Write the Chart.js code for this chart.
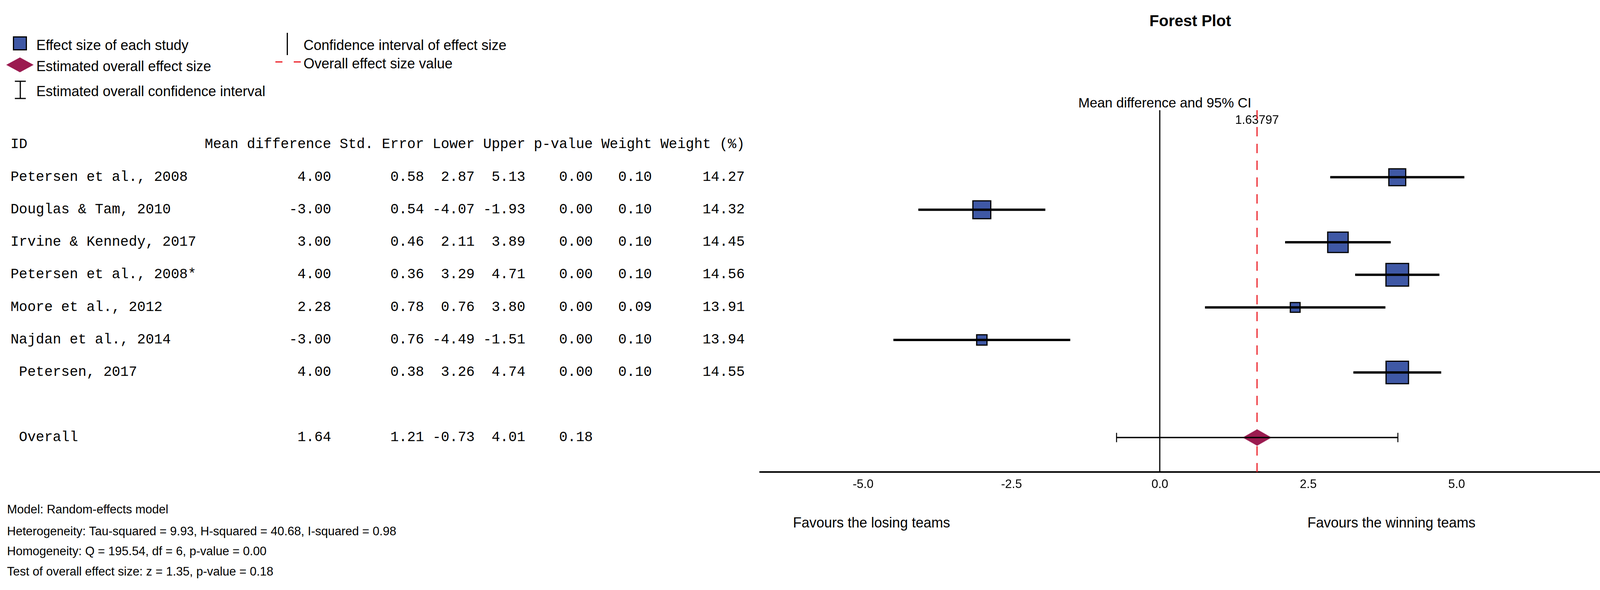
<!DOCTYPE html>
<html>
<head>
<meta charset="utf-8">
<title>Forest Plot</title>
<script src="https://cdn.jsdelivr.net/npm/chart.js@4.4.1/dist/chart.umd.min.js"></script>
<style>
  body { margin: 0; background: #fff; }
  #page { position: relative; width: 4168px; height: 1510px; overflow: hidden; background: #fff;
          font-family: 'Liberation Sans', Arial, sans-serif; color: #000; }
  .t { position: absolute; white-space: pre; font-size: 36px; line-height: 40px; }
  .note { position: absolute; white-space: pre; font-size: 31px; line-height: 36px; left: 18px; }
  .mono { position: absolute; white-space: pre; left: 27px;
          font-family: 'Liberation Mono', 'Courier New', monospace; font-size: 36px; line-height: 40px; }
  .sym { position: absolute; }
  #chartBox { position: absolute; left: 1900px; top: 0; width: 2268px; height: 1510px; }
</style>
</head>
<body>
<div id="page">
  <!-- legend -->
  <div class="sym" style="left:33px;top:93px;width:36px;height:36px;box-sizing:border-box;background:#3f58a5;border:3px solid #000;"></div>
  <div class="t" style="left:93px;top:96px;">Effect size of each study</div>
  <svg class="sym" style="left:16px;top:147px;" width="70" height="38"><polygon points="0,19 35,0 70,19 35,38" fill="#9b1b50"/></svg>
  <div class="t" style="left:93px;top:150px;">Estimated overall effect size</div>
  <svg class="sym" style="left:36px;top:206px;" width="32" height="48"><path d="M2 2 H30 M16 2 V46 M2 46 H30" stroke="#000" stroke-width="3" fill="none"/></svg>
  <div class="t" style="left:93px;top:214px;">Estimated overall confidence interval</div>
  <div class="sym" style="left:734px;top:84px;width:3px;height:57px;background:#000;"></div>
  <div class="t" style="left:777px;top:96px;">Confidence interval of effect size</div>
  <div class="sym" style="left:705px;top:157px;width:18px;height:3px;background:#ec1c24;"></div>
  <div class="sym" style="left:752px;top:157px;width:18px;height:3px;background:#ec1c24;"></div>
  <div class="t" style="left:777px;top:143px;">Overall effect size value</div>

  <div id="table"></div>
  <div id="notes"></div>

  <!-- plot texts -->
  <div class="t" style="left:2847px;top:29px;width:400px;text-align:center;font-weight:bold;font-size:40px;line-height:48px;">Forest Plot</div>
  <div class="t" style="left:2682px;top:243px;width:600px;text-align:center;font-size:35px;">Mean difference and 95% CI</div>
  <div class="t" style="left:2030px;top:1318px;">Favours the losing teams</div>
  <div class="t" style="left:3347px;top:1318px;">Favours the winning teams</div>

  <div id="chartBox"><canvas id="forest" width="2268" height="1510"></canvas></div>
</div>
<script>
// study table values
const studies = ['Petersen et al., 2008', 'Douglas & Tam, 2010', 'Irvine & Kennedy, 2017',
                 'Petersen et al., 2008*', 'Moore et al., 2012', 'Najdan et al., 2014', ' Petersen, 2017'];
const meanDiff = [4.00, -3.00, 3.00, 4.00, 2.28, -3.00, 4.00];
const stdError = [0.58, 0.54, 0.46, 0.36, 0.78, 0.76, 0.38];
const lower = [2.87, -4.07, 2.11, 3.29, 0.76, -4.49, 3.26];
const upper = [5.13, -1.93, 3.89, 4.71, 3.80, -1.51, 4.74];
const pValue = [0.00, 0.00, 0.00, 0.00, 0.00, 0.00, 0.00];
const weight = [0.10, 0.10, 0.10, 0.10, 0.09, 0.10, 0.10];
const weightPct = [14.27, 14.32, 14.45, 14.56, 13.91, 13.94, 14.55];

// overall effect
const overallLabel = ' Overall';
const overallMean = 1.63797;
const overallStdError = 1.21;
const overallLower = -0.73;
const overallUpper = 4.01;
const overallP = 0.18;

const headers = ['Mean difference', 'Std. Error', 'Lower', 'Upper', 'p-value', 'Weight', 'Weight (%)'];
const xTicks = [-5, -2.5, 0, 2.5, 5];

const notes = [
    'Model: Random-effects model',
    'Heterogeneity: Tau-squared = 9.93, H-squared = 40.68, I-squared = 0.98',
    'Homogeneity: Q = 195.54, df = 6, p-value = 0.00',
    'Test of overall effect size: z = 1.35, p-value = 0.18'
];

const overallRow = studies.length + 1;

// diamond marker
const diamond = document.createElement('canvas');
diamond.width = 74;
diamond.height = 42;
const dc = diamond.getContext('2d');
dc.fillStyle = '#9b1b50';
dc.beginPath();
dc.moveTo(0, 21); dc.lineTo(37, 0); dc.lineTo(74, 21); dc.lineTo(37, 42);
dc.closePath();
dc.fill();

// box size follows weight (%)
const minW = Math.min(...weightPct);
const maxW = Math.max(...weightPct);
const boxSide = weightPct.map(w => 25 + (w - minW) / (maxW - minW) * 33);

const whiskers = studies.map((s, i) => ({
    data: [{ x: lower[i], y: i }, { x: upper[i], y: i }],
    showLine: true,
    borderColor: '#000',
    borderWidth: 6,
    pointRadius: 0,
    order: 0
}));

const datasets = [
    ...whiskers,
    {
        data: meanDiff.map((m, i) => ({ x: m, y: i })),
        pointStyle: 'rect',
        pointRadius: boxSide.map(s => s / 2 / Math.SQRT1_2),
        backgroundColor: '#3f58a5',
        borderColor: '#000',
        borderWidth: 3,
        order: 2
    },
    {
        data: [{ x: overallLower, y: overallRow }, { x: overallUpper, y: overallRow }],
        showLine: true,
        borderColor: '#000',
        borderWidth: 3.5,
        pointStyle: 'line',
        pointRotation: 90,
        pointRadius: 12,
        pointBorderWidth: 2.5,
        pointBorderColor: '#000',
        order: 0
    },
    {
        data: [{ x: overallMean, y: overallRow }],
        pointStyle: diamond,
        pointRadius: 21,
        order: 2
    }
];

// zero line, overall line and its value
const refLines = {
    id: 'refLines',
    beforeDatasetsDraw(chart) {
        const { ctx, chartArea: a, scales: { x } } = chart;
        const x0 = Math.round(x.getPixelForValue(0));
        const xo = Math.round(x.getPixelForValue(overallMean));
        ctx.save();
        ctx.fillStyle = '#000';
        ctx.font = '31px "Liberation Sans", Arial, sans-serif';
        ctx.textAlign = 'center';
        ctx.textBaseline = 'middle';
        ctx.fillText(String(overallMean), xo, a.top + 26);
        ctx.strokeStyle = '#000';
        ctx.lineWidth = 3;
        ctx.beginPath(); ctx.moveTo(x0, a.top); ctx.lineTo(x0, a.bottom); ctx.stroke();
        ctx.strokeStyle = '#ec1c24';
        ctx.lineWidth = 3;
        ctx.setLineDash([24, 19]);
        ctx.beginPath(); ctx.moveTo(xo, a.top); ctx.lineTo(xo, a.bottom); ctx.stroke();
        ctx.restore();
    }
};

Chart.defaults.font.family = "'Liberation Sans', Arial, sans-serif";
Chart.defaults.color = '#000';

const chart = new Chart(document.getElementById('forest'), {
    type: 'scatter',
    data: { datasets: datasets },
    options: {
        responsive: false,
        devicePixelRatio: 1,
        animation: false,
        events: [],
        layout: { padding: { left: 46, right: 0, top: 282, bottom: 242 } },
        plugins: { legend: { display: false }, tooltip: { enabled: false } },
        scales: {
            x: {
                type: 'linear',
                min: -6.735,
                max: 7.6,
                grid: { display: false, drawTicks: false },
                border: { display: true, color: '#000', width: 4 },
                ticks: { padding: 14, color: '#000', font: { size: 31 }, callback: v => v.toFixed(1) },
                afterBuildTicks: axis => { axis.ticks = xTicks.map(v => ({ value: v })); },
                afterFit: axis => { axis.height = 60; }
            },
            y: { type: 'linear', reverse: true, min: -2.06, max: 9.06, display: false }
        }
    },
    plugins: [refLines]
});

// text table, rows placed on the chart's row scale
const yScale = chart.scales.y;
const f2 = v => v.toFixed(2);
const line = (id, cols) => id.padEnd(23) + cols.map((c, k) => (k ? ' ' : '') + c.padStart(headers[k].length)).join('');

const rows = [[-1, line('ID', headers)]];
studies.forEach((s, i) => {
    rows.push([i, line(s, [f2(meanDiff[i]), f2(stdError[i]), f2(lower[i]), f2(upper[i]), f2(pValue[i]), f2(weight[i]), f2(weightPct[i])])]);
});
rows.push([overallRow, line(overallLabel, [f2(overallMean), f2(overallStdError), f2(overallLower), f2(overallUpper), f2(overallP)])]);

let html = '';
rows.forEach(([r, txt]) => {
    const top = yScale.getPixelForValue(r) - 20;
    html += `<div class="mono" style="top:${top}px">${txt.replace(/&/g, '&amp;')}</div>`;
});
document.getElementById('table').innerHTML = html;

document.getElementById('notes').innerHTML = notes
    .map((n, i) => `<div class="note" style="top:${1286 + [0, 56, 107, 159][i]}px">${n}</div>`)
    .join('');
</script>
</body>
</html>
